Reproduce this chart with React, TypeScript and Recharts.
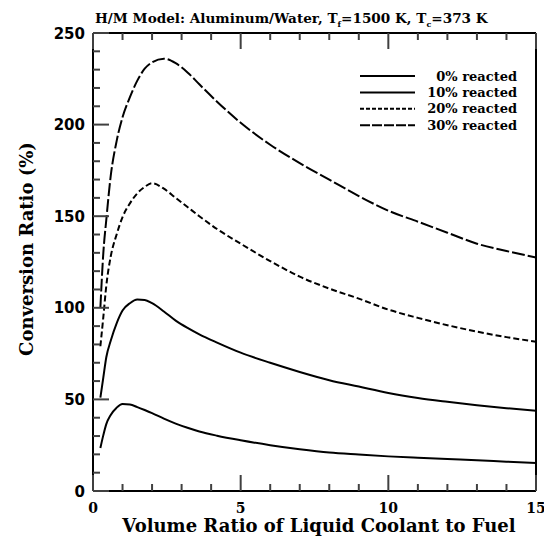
import React from 'react';
import { LineChart, Line, XAxis, YAxis } from 'recharts';

const xValues = [0.25, 0.35, 0.45, 0.6, 0.8, 1.0, 1.25, 1.5, 1.75, 2.0, 2.4, 2.8, 3.2, 3.6, 4.2, 5, 6, 7, 8, 9, 10, 11, 12, 13, 14, 15];
const reacted0 = [23.5, 30.5, 36.5, 41.5, 45.5, 47.5, 47.2, 45.8, 44.2, 42.5, 39.5, 36.8, 34.5, 32.5, 30.2, 27.7, 25, 22.8, 21, 19.9, 18.9, 18.1, 17.4, 16.8, 16, 15.3];
const reacted10 = [51, 62, 73, 82, 91.5, 98.5, 102.5, 104.5, 104.3, 102.5, 98, 93, 89, 85.5, 81, 75.5, 70, 65, 60.5, 57, 53.5, 50.8, 48.7, 46.8, 45.2, 43.8];
const reacted20 = [79, 95, 112, 128, 140, 149.5, 157, 162.5, 166, 168, 165, 160, 155, 150, 143, 135, 125.5, 117, 110.5, 105, 99, 94.5, 90.5, 87, 84, 81.5];
const reacted30 = [100, 130, 148, 172, 191, 204, 215, 224, 230.5, 234, 236, 233.5, 228.5, 222, 212.5, 201, 189, 179, 170, 161, 153, 147, 141, 135, 131, 127.5];

const seriesNames = ['0% reacted', '10% reacted', '20% reacted', '30% reacted'];
const seriesKeys = ['r0', 'r10', 'r20', 'r30'];
const seriesDash = ['', '', '6 3', '13 3'];
const legendDash = ['', '', '4 2', '10 2'];

const xTicks = [0, 1, 2, 3, 4, 5, 6, 7, 8, 9, 10, 11, 12, 13, 14, 15];
const yTicks = [0, 10, 20, 30, 40, 50, 60, 70, 80, 90, 100, 110, 120, 130, 140, 150, 160, 170, 180, 190, 200, 210, 220, 230, 240, 250];
const xTickLabels = [0, 5, 10, 15];
const yTickLabels = [0, 50, 100, 150, 200, 250];

const data = xValues.map((x, i) => ({
  x,
  r0: reacted0[i],
  r10: reacted10[i],
  r20: reacted20[i],
  r30: reacted30[i],
}));

const MAJOR = 16;
const MINOR = 7;
const TICK_COLOR = '#404040';
const serif = '"DejaVu Serif", serif';
const sans = '"DejaVu Sans", sans-serif';

const AxisTick = (props: any) => {
  const { x, y, payload, side } = props;
  const v = Number(payload.value);
  const px = Number(x);
  const py = Number(y);
  if (side === 'bottom' || side === 'top') {
    const len = v % 5 === 0 ? MAJOR : MINOR;
    const dir = side === 'bottom' ? -1 : 1;
    return (
      <g>
        <path d={`M${px},${py}L${px},${py + dir * len}`} style={{ stroke: TICK_COLOR, strokeWidth: 2 }} />
        {side === 'bottom' && xTickLabels.includes(v) ? (
          <text x={px} y={py + 22} textAnchor="middle" fontFamily={serif} fontWeight="bold" fontSize={14} fill="#000">
            {v}
          </text>
        ) : null}
      </g>
    );
  }
  const len = v % 50 === 0 ? MAJOR : MINOR;
  const dir = side === 'left' ? 1 : -1;
  return (
    <g>
      <path d={`M${px},${py}L${px + dir * len},${py}`} style={{ stroke: TICK_COLOR, strokeWidth: 2 }} />
      {side === 'left' && yTickLabels.includes(v) ? (
        <text x={px - 8} y={py + 5.5} textAnchor="end" fontFamily={sans} fontWeight="bold" fontSize={15} fill="#000">
          {v}
        </text>
      ) : null}
    </g>
  );
};

const axisLine = { stroke: '#000', strokeWidth: 2 };

export default function App() {
  return (
    <div style={{ position: 'relative', width: 544, height: 528, background: '#fff' }}>
      <LineChart width={544} height={528} data={data} margin={{ top: 15, right: 6, bottom: 15, left: 25 }}>
        <XAxis
          dataKey="x"
          type="number"
          domain={[0, 15]}
          ticks={xTicks}
          interval={0}
          height={30}
          tickSize={0}
          tickMargin={0}
          axisLine={axisLine}
          tickLine={false}
          tick={<AxisTick side="bottom" />}
        />
        <YAxis
          type="number"
          domain={[0, 250]}
          ticks={yTicks}
          interval={0}
          width={60}
          tickSize={0}
          tickMargin={0}
          axisLine={axisLine}
          tickLine={false}
          tick={<AxisTick side="left" />}
        />
        <XAxis
          xAxisId="top"
          orientation="top"
          dataKey="x"
          type="number"
          domain={[0, 15]}
          ticks={xTicks}
          interval={0}
          height={10}
          tickSize={0}
          tickMargin={0}
          axisLine={axisLine}
          tickLine={false}
          tick={<AxisTick side="top" />}
        />
        <YAxis
          yAxisId="right"
          orientation="right"
          type="number"
          domain={[0, 250]}
          ticks={yTicks}
          interval={0}
          width={10}
          tickSize={0}
          tickMargin={0}
          axisLine={axisLine}
          tickLine={false}
          tick={<AxisTick side="right" />}
        />
        {seriesKeys.map((k, i) => (
          <Line
            key={k}
            dataKey={k}
            name={seriesNames[i]}
            type="monotone"
            stroke="#000"
            strokeWidth={2}
            strokeDasharray={seriesDash[i] || undefined}
            dot={false}
            activeDot={false}
            isAnimationActive={false}
          />
        ))}
      </LineChart>
      <div style={{ position: 'absolute', left: 340, top: 58, width: 180, height: 70 }}>
        <svg width={180} height={70}>
          {seriesNames.map((name, i) => {
            const cy = 10 + i * 16.4;
            return (
              <g key={name}>
                <line x1={12} y1={cy} x2={67} y2={cy} stroke="#000" strokeWidth={2} strokeDasharray={legendDash[i] || undefined} />
                <text x={169} y={cy + 4.5} textAnchor="end" fontFamily={serif} fontWeight="bold" fontSize={13} fill="#000">
                  {name}
                </text>
              </g>
            );
          })}
        </svg>
      </div>
      <div
        style={{
          position: 'absolute',
          left: 87,
          top: 3,
          fontFamily: serif,
          fontWeight: 'bold',
          fontSize: 13.6,
          lineHeight: '15px',
          whiteSpace: 'nowrap',
          color: '#000',
        }}
      >
        H/M Model: Aluminum/Water, T<sub style={{ fontSize: 8, lineHeight: 0 }}>f</sub>=1500 K, T
        <sub style={{ fontSize: 8, lineHeight: 0 }}>c</sub>=373 K
      </div>
      <div
        style={{
          position: 'absolute',
          left: 311,
          top: 508,
          transform: 'translateX(-50%)',
          fontFamily: serif,
          fontWeight: 'bold',
          fontSize: 18,
          lineHeight: '20px',
          whiteSpace: 'nowrap',
          color: '#000',
        }}
      >
        Volume Ratio of Liquid Coolant to Fuel
      </div>
      <div
        style={{
          position: 'absolute',
          left: 19,
          top: 241,
          transform: 'translate(-50%, -50%) rotate(-90deg)',
          fontFamily: serif,
          fontWeight: 'bold',
          fontSize: 18,
          lineHeight: '20px',
          whiteSpace: 'nowrap',
          color: '#000',
        }}
      >
        Conversion Ratio (%)
      </div>
    </div>
  );
}
